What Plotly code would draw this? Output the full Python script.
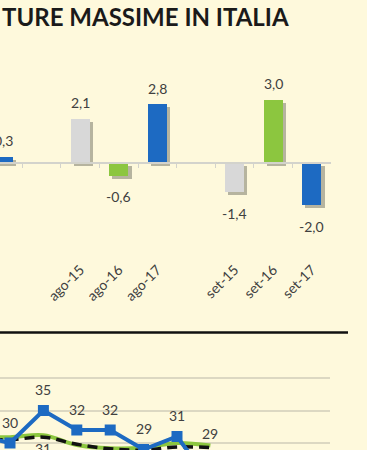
import plotly.graph_objects as go

W, H = 367, 450
FONT = "Lato"
TXT = "#404040"
BG = "#fef9dc"


def py(px):
    """pixel from top -> paper fraction"""
    return 1 - px / H


# ---------------- data ----------------
title_text = "TURE MASSIME IN ITALIA"

bar_labels = ["lug-17", "ago-15", "ago-16", "ago-17", "set-15", "set-16", "set-17"]
bar_values = [0.3, 2.1, -0.6, 2.8, -1.4, 3.0, -2.0]
bar_month = [0, 1, 1, 1, 2, 2, 2]      # lug / ago / set
bar_year = [2, 0, 1, 2, 0, 1, 2]       # 2015 / 2016 / 2017
year_colors = ["#d8d8d8", "#8cc63f", "#1d6ac2"]

line_x = [0, 1, 2, 3, 4, 5, 6, 7]
blue_vals = [31.2, 30.0, 35.0, 32.0, 32.0, 29.0, 31.0, 24.0]
green_vals = [31.0, 30.9, 31.2, 29.7, 29.2, 29.3, 30.0, 29.6]
black_vals = [30.7, 30.5, 30.9, 29.8, 29.1, 28.9, 29.4, 29.3]
blue_show = [1, 1, 1, 1, 1, 1, 1, 1]
green_show = [0, 0, 1, 0, 0, 0, 0, 0]
black_show = [0, 0, 0, 0, 0, 0, 0, 1]

# ---------------- derived ----------------
slots = [m * 4 + y for m, y in zip(bar_month, bar_year)]
bar_colors = [year_colors[y] for y in bar_year]


def fmt1(v):
    return f"{v:.1f}".replace(".", ",")


fig = go.Figure()

# shadows (behind, on x)
fig.add_trace(go.Bar(
    x=slots, y=bar_values, base=-0.14, width=0.5, offset=-0.17,
    marker=dict(color="rgba(95,95,85,0.45)", line=dict(width=0)),
    xaxis="x", yaxis="y", hoverinfo="skip", showlegend=False))
# bars (on x2, drawn above)
fig.add_trace(go.Bar(
    x=slots, y=bar_values, width=0.5,
    marker=dict(color=bar_colors, line=dict(width=0)),
    xaxis="x2", yaxis="y", showlegend=False))

annotations = []
for s, v in zip(slots, bar_values):
    annotations.append(dict(
        x=s, y=v, xref="x2", yref="y", text=fmt1(v), showarrow=False,
        yshift=16 if v >= 0 else -21,
        font=dict(family=FONT, size=14, color=TXT)))

# bottom line chart
fig.add_trace(go.Scatter(
    x=line_x, y=green_vals, mode="lines", line=dict(color="#8cc63f", width=4, shape="spline"),
    xaxis="x3", yaxis="y3", showlegend=False))
fig.add_trace(go.Scatter(
    x=line_x, y=black_vals, mode="lines",
    line=dict(color="#111111", width=3.5, shape="spline", dash="10px,6px"),
    xaxis="x3", yaxis="y3", showlegend=False))
fig.add_trace(go.Scatter(
    x=line_x, y=blue_vals, mode="lines+markers",
    line=dict(color="#1d6ac2", width=4),
    marker=dict(symbol="square", size=11, color="#1d6ac2"),
    xaxis="x3", yaxis="y3", showlegend=False))

for x, v, s in zip(line_x, blue_vals, blue_show):
    if s:
        annotations.append(dict(x=x, y=v, xref="x3", yref="y3", text=f"{v:.0f}",
                                showarrow=False, yshift=21,
                                font=dict(family=FONT, size=14, color=TXT)))
for x, v, s in zip(line_x, green_vals, green_show):
    if s:
        annotations.append(dict(x=x, y=v, xref="x3", yref="y3", text=f"{v:.0f}",
                                showarrow=False, yshift=-13,
                                font=dict(family=FONT, size=14, color=TXT)))
for x, v, s in zip(line_x, black_vals, black_show):
    if s:
        annotations.append(dict(x=x, y=v, xref="x3", yref="y3", text=f"{v:.0f}",
                                showarrow=False, yshift=14,
                                font=dict(family=FONT, size=14, color=TXT)))

annotations.append(dict(
    x=0, y=py(16), xref="paper", yref="paper", xanchor="left", yanchor="middle",
    text=f"<b>{title_text}</b>", showarrow=False,
    font=dict(family=FONT, size=24, color="#1a1a1a")))

# axis geometry
zero_px, unit_px = 163, 21
top_px, bot_px = 60, 258
slot_px0, slot_step = 3, 38.6
x_lo = 2 - slot_px0 / slot_step
x_hi = 2 + (331 - slot_px0) / slot_step
y_rng = [-(bot_px - zero_px) / unit_px, (zero_px - top_px) / unit_px]

boundaries = [s + 0.5 for s in range(-1, 11)]

l_x0_px, l_step = 10, 33.4
lx_lo = 1 - l_x0_px / l_step
lx_hi = 1 + (330 - l_x0_px) / l_step
ly_unit = 6.5
ly_rng = [35 - (450 - 410.5) / ly_unit, 35 + (410.5 - 365) / ly_unit]

fig.update_layout(
    width=W, height=H, margin=dict(l=0, r=0, t=0, b=0),
    paper_bgcolor=BG, plot_bgcolor="rgba(0,0,0,0)",
    barmode="overlay", bargap=0,
    font=dict(family=FONT, color=TXT),
    annotations=annotations,
    xaxis=dict(domain=[0, 331 / W], range=[x_lo, x_hi], tickmode="array",
               tickvals=slots, ticktext=bar_labels, tickangle=-45,
               tickfont=dict(family=FONT, size=14, color=TXT),
               showline=False, showgrid=False, zeroline=False, ticks="",
               anchor="y", fixedrange=True),
    xaxis2=dict(domain=[0, 331 / W], range=[x_lo, x_hi], overlaying="x",
                anchor="free", position=py(zero_px), side="bottom",
                showline=True, linecolor="#d3d3cc", linewidth=1.5,
                tickmode="array", tickvals=boundaries, ticks="outside", ticklen=4,
                tickcolor="#d3d3cc", tickwidth=1, showticklabels=False,
                showgrid=False, zeroline=False),
    yaxis=dict(domain=[py(bot_px), py(top_px)], range=y_rng, showgrid=False,
               zeroline=False, showticklabels=False, showline=False, anchor="x"),
    xaxis3=dict(domain=[0, 330 / W], range=[lx_lo, lx_hi], visible=False, anchor="y3"),
    yaxis3=dict(domain=[0, py(365)], range=ly_rng, tick0=0, dtick=5,
                showgrid=True, gridcolor="#dcd8c2", gridwidth=1.5,
                zeroline=False, showticklabels=False, showline=False, anchor="x3"),
    shapes=[dict(type="line", xref="paper", yref="paper", x0=0, x1=348 / W,
                 y0=py(332.5), y1=py(332.5), line=dict(color="#111111", width=2.5))],
)

fig.write_html(
    "out.html",
    config={"displayModeBar": False},
    post_script="document.body.style.margin='0';document.body.style.overflow='hidden';"
                "document.documentElement.style.background='" + BG + "';",
)
